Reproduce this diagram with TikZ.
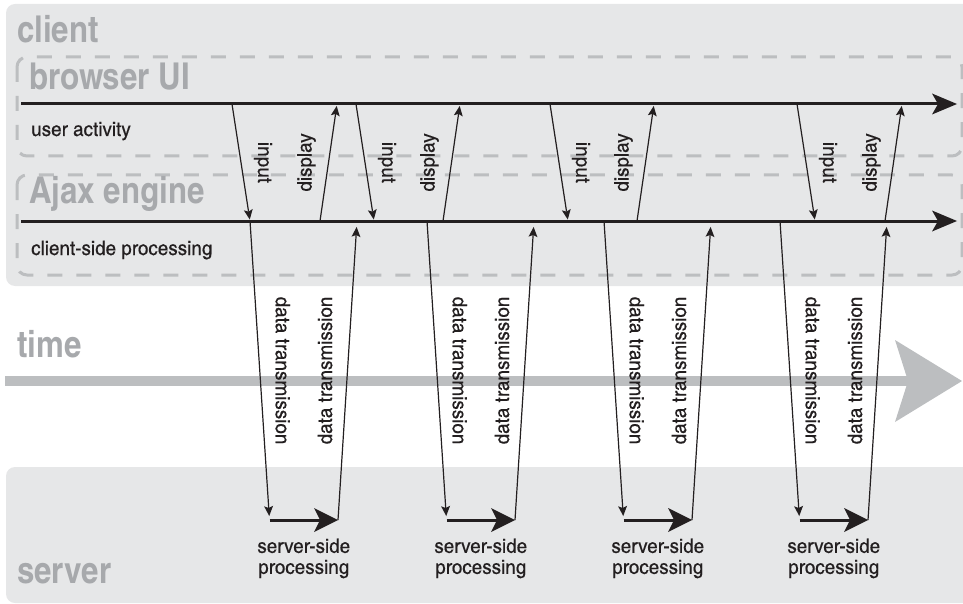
\documentclass[tikz,border=0pt]{standalone}
\usepackage{fontspec}
\setmainfont{texgyreheroscn}[Extension=.otf, UprightFont=*-regular, BoldFont=*-bold]
\newfontfamily\labelfont{texgyreheroscn}[Extension=.otf, UprightFont=*-regular,
    FakeStretch=1.15, FakeBold=0.4]
\newfontfamily\titlefont{texgyreheroscn}[Extension=.otf, UprightFont=*-bold,
    FakeStretch=1.03]
\usetikzlibrary{arrows.meta, positioning}

\definecolor{panel}{HTML}{E6E7E8}
\definecolor{dashgray}{HTML}{BCBEC0}
\definecolor{titlegray}{HTML}{A7A9AC}
\definecolor{ink}{HTML}{231F20}

\begin{document}
\begin{tikzpicture}[
    x=1pt, y=-1pt,
    panelbox/.style={fill=panel, rounded corners=9pt},
    lane/.style={draw=dashgray, line width=3pt, dash pattern=on 15pt off 14pt,
                 rounded corners=10pt},
    title/.style={anchor=base west, inner sep=0pt, text=titlegray,
                  font=\titlefont\fontsize{37}{37}\selectfont},
    lanetext/.style={anchor=base west, inner sep=0pt, text=ink,
                     font=\labelfont\fontsize{20}{21}\selectfont},
    vlab/.style={inner sep=0pt, text=ink, font=\labelfont\fontsize{20}{21}\selectfont},
    track/.style={draw=ink, line width=3pt,
                  -{Stealth[length=25pt, width=21pt, inset=6pt, line width=0pt]}},
    msg/.style={draw=ink, line width=1.2pt,
                -{Stealth[length=10pt, width=9pt, inset=2pt, line width=0pt]}},
    work/.style={draw=ink, line width=3pt,
                 -{Stealth[length=24pt, width=24pt, inset=6pt, line width=0pt]}},
    timeflow/.style={draw=dashgray, line width=10pt,
                     -{Stealth[length=67pt, width=82pt, inset=13pt, line width=0pt]}},
]
    \useasboundingbox (0,0) rectangle (963,604);

    %==================== PANELS ====================
    \fill[panelbox] (6,4) rectangle (980,286);
    \fill[panelbox] (6,467) rectangle (980,603);
    \draw[lane] (17,57) rectangle (962,156);
    \draw[lane] (17,175) rectangle (962,275);

    %==================== TITLES ====================
    \node[title] (client) at (17,43) {client};
    \node[title] (browser) at (29,90) {browser UI};
    \node[title] (ajax) at (29,204) {Ajax engine};
    \node[title] (time) at (17,357) {time};
    \node[title] (server) at (17,583) {server};

    \node[lanetext] (useract) at (31,136) {user activity};
    \node[lanetext] (csproc) at (31,255) {client-side processing};

    %==================== TRACKS ====================
    \coordinate (ui0) at (21,104);
    \coordinate (ui1) at (957,104);
    \coordinate (ae0) at (21,221);
    \coordinate (ae1) at (957,221);
    \coordinate (t0) at (5,381);
    \coordinate (t1) at (962,381);

    \draw[timeflow] (t0) -- (t1);
    \draw[track] (ui0) -- (ui1);
    \draw[track] (ae0) -- (ae1);

    %==================== ROUND TRIPS ====================
    % input x / display x / request x
    \foreach \inx/\dsx/\rqx [count=\i] in {232/320/250, 356/443/427, 550/637/604, 797/885/780} {
        \coordinate (in\i a) at (\inx,104);
        \coordinate (in\i b) at (\inx+18,221);
        \coordinate (ds\i a) at (\dsx,221);
        \coordinate (ds\i b) at (\dsx+17,104);
        \coordinate (rq\i a) at (\rqx,221);
        \coordinate (sv\i a) at (\rqx+19.5,520);
        \coordinate (sv\i b) at (\rqx+88,520);
        \coordinate (rs\i b) at (\rqx+107,221);

        \draw[msg, shorten >=1.5pt] (in\i a) -- (in\i b)
            node[vlab, midway, xshift=22pt, rotate=-90] (inlab\i) {input};
        \draw[msg, shorten >=2pt] (ds\i a) -- (ds\i b)
            node[vlab, midway, xshift=-22pt, rotate=90] (dslab\i) {display};
        \draw[msg, shorten >=4pt] (rq\i a) -- (sv\i a)
            node[vlab, midway, xshift=23pt, rotate=-90] (rqlab\i) {data transmission};
        \draw[work] (sv\i a) -- (sv\i b)
            node[vlab, midway, below=17pt, align=center] (svlab\i) {server-side\\processing};
        \draw[msg, shorten >=6pt] (sv\i b) -- (rs\i b)
            node[vlab, midway, xshift=-22.5pt, rotate=90] (rslab\i) {data transmission};
    }

\end{tikzpicture}
\end{document}
